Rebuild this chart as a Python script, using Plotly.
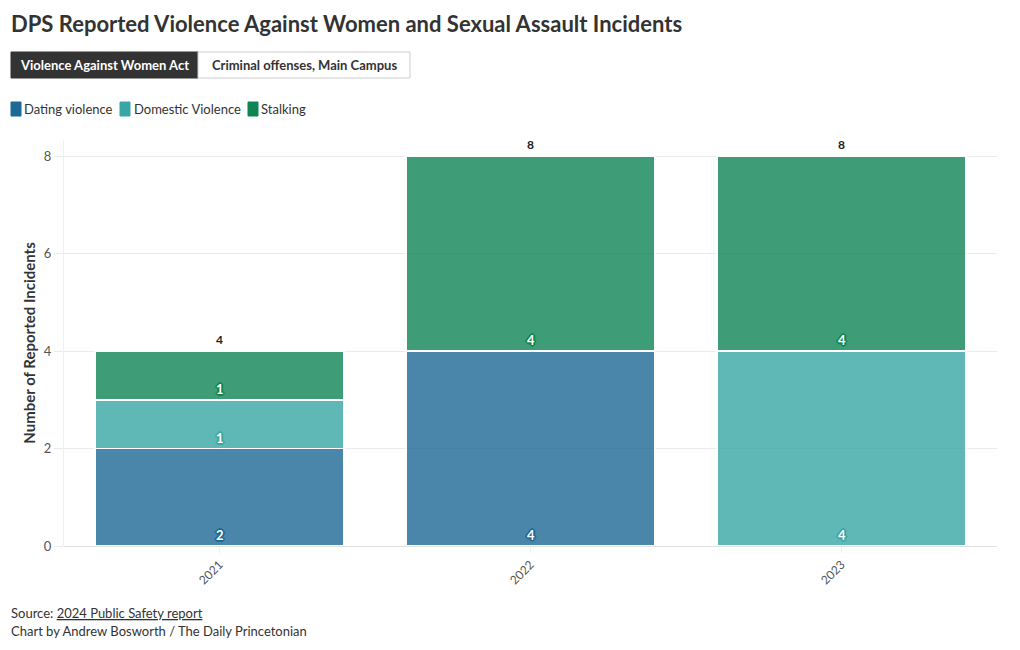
import plotly.graph_objects as go

years = ["2021", "2022", "2023"]
dating = [2, 4, 0]
domestic = [1, 0, 4]
stalking = [1, 4, 4]

series = [
    ("Dating violence", dating, "#1d6996"),
    ("Domestic Violence", domestic, "#38a6a5"),
    ("Stalking", stalking, "#0f8554"),
]

FONT = "Source Sans Pro, Lato, sans-serif"
W, H = 1020, 650
L, R, T, B = 64, 23, 140, 104

xpos = list(range(len(years)))

fig = go.Figure()
for name, vals, col in series:
    fig.add_trace(go.Bar(
        x=xpos, y=vals, name=name, width=0.8,
        marker=dict(color=col, opacity=0.8, line=dict(color="white", width=1.5)),
        hoverinfo="skip", showlegend=False,
    ))


def outline(col):
    offs = [(1, 0), (-1, 0), (0, 1), (0, -1), (1, 1), (-1, -1), (1, -1), (-1, 1),
            (2, 0), (-2, 0), (0, 2), (0, -2)]
    return ", ".join(f"{dx}px {dy}px 0 {col}" for dx, dy in offs)


annotations = []
base = [0] * len(years)
for name, vals, col in series:
    for i, v in enumerate(vals):
        if v > 0:
            annotations.append(dict(
                x=xpos[i], y=base[i], xref="x", yref="y", text=f"<b>{v}</b>",
                showarrow=False, yanchor="bottom", yshift=1,
                font=dict(family=FONT, size=13, color="white", shadow=outline(col)),
            ))
        base[i] += v
for i, tot in enumerate(base):
    annotations.append(dict(
        x=xpos[i], y=tot, xref="x", yref="y", text=f"<b>{tot}</b>",
        showarrow=False, yanchor="bottom", yshift=2,
        font=dict(family=FONT, size=12, color="#222"),
    ))

def px_x(p):
    return (p - L) / (W - L - R)

def px_y(p):
    return (H - B - p) / (H - T - B)

# title
annotations.append(dict(
    x=px_x(9), y=px_y(24), xref="paper", yref="paper",
    text="<b>DPS Reported Violence Against Women and Sexual Assault Incidents</b>",
    showarrow=False, xanchor="left", yanchor="middle",
    font=dict(family=FONT, size=22, color="#333"),
))

# buttons
shapes = [
    dict(type="rect", xref="paper", yref="paper", x0=px_x(11), x1=px_x(198), y0=px_y(78), y1=px_y(52),
         fillcolor="#333333", line=dict(color="#333333", width=1), layer="above"),
    dict(type="rect", xref="paper", yref="paper", x0=px_x(198), x1=px_x(410), y0=px_y(78), y1=px_y(52),
         fillcolor="white", line=dict(color="#cccccc", width=1), layer="above"),
]
annotations.append(dict(
    x=px_x(104.5), y=px_y(65), xref="paper", yref="paper", text="<b>Violence Against Women Act</b>",
    showarrow=False, xanchor="center", yanchor="middle",
    font=dict(family=FONT, size=13, color="white"),
))
annotations.append(dict(
    x=px_x(304), y=px_y(65), xref="paper", yref="paper", text="<b>Criminal offenses, Main Campus</b>",
    showarrow=False, xanchor="center", yanchor="middle",
    font=dict(family=FONT, size=13, color="#333"),
))

# manual legend
legend_pos = [(11, 24), (120, 134), (248, 261)]
for (name, vals, col), (sx, tx) in zip(series, legend_pos):
    shapes.append(dict(type="rect", xref="paper", yref="paper", x0=px_x(sx), x1=px_x(sx + 10),
                       y0=px_y(116), y1=px_y(102),
                       fillcolor=col, line=dict(color=col, width=1), layer="above"))
    annotations.append(dict(
        x=px_x(tx - 2), y=px_y(109), xref="paper", yref="paper", text=name,
        showarrow=False, xanchor="left", yanchor="middle",
        font=dict(family=FONT, size=13, color="#333"),
    ))

# footer
annotations.append(dict(
    x=px_x(9), y=px_y(613), xref="paper", yref="paper",
    text="Source: <u>2024 Public Safety report</u>",
    showarrow=False, xanchor="left", yanchor="middle",
    font=dict(family=FONT, size=13, color="#333"),
))
annotations.append(dict(
    x=px_x(9), y=px_y(631), xref="paper", yref="paper",
    text="Chart by Andrew Bosworth / The Daily Princetonian",
    showarrow=False, xanchor="left", yanchor="middle",
    font=dict(family=FONT, size=13, color="#333"),
))

fig.update_layout(
    width=W, height=H,
    margin=dict(l=L, r=R, t=T, b=B),
    barmode="stack",
    plot_bgcolor="white", paper_bgcolor="white",
    font=dict(family=FONT, size=12, color="#444"),
    showlegend=False,
    xaxis=dict(range=[-0.5, len(years) - 0.5], tickvals=xpos, ticktext=years,
               tickangle=-45, tickfont=dict(family=FONT, size=12, color="#555"),
               showgrid=False, showline=False, zeroline=False,
               ticks="outside", ticklen=6, tickcolor="#f0f0f0"),
    yaxis=dict(range=[0, 8.33], tickvals=[0, 2, 4, 6, 8], gridcolor="#ebebeb", zeroline=True,
               zerolinecolor="#e0e0e0", zerolinewidth=1,
               showline=True, linecolor="#f0f0f0", linewidth=1,
               tickfont=dict(family=FONT, size=13, color="#555"),
               title=dict(text="<b>Number of Reported Incidents</b>", font=dict(family=FONT, size=15, color="#333"), standoff=4),
               ticks="outside", ticklen=9, tickcolor="#ebebeb"),
    annotations=annotations,
    shapes=shapes,
)

fig.write_html("out.html", config={"displayModeBar": False},
               post_script="document.body.style.margin='0';")
